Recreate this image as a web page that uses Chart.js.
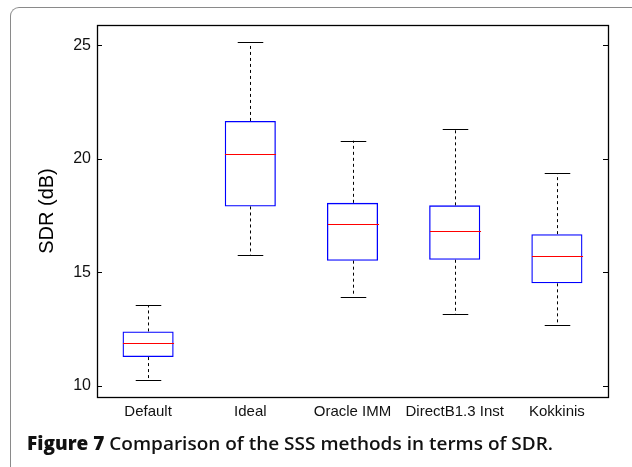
<!DOCTYPE html>
<html>
<head>
<meta charset="utf-8">
<script src="https://cdn.jsdelivr.net/npm/chart.js@4.4.1/dist/chart.umd.min.js"></script>
<style>
  html, body { margin: 0; padding: 0; background: #fff; }
  body { width: 632px; height: 467px; position: relative; overflow: hidden; }
  #frame { position: absolute; left: 10px; top: 7px; width: 700px; height: 600px;
           border-left: 1px solid #8a8a8a; border-top: 1px solid #8a8a8a; border-top-left-radius: 9px; }
  #wrap { position: absolute; left: 0; top: 0; width: 632px; height: 467px; }
  #caption { position: absolute; left: 27px; top: 433.5px; font-family: "Open Sans", Lato, sans-serif;
             font-size: 18.5px; line-height: 1; font-weight: 600; color: #111; white-space: nowrap;
             transform-origin: 0 0; }
</style>
</head>
<body>
<div id="frame"></div>
<div id="wrap"><canvas id="c" width="632" height="467"></canvas></div>
<div id="caption"><span style="font-weight:800">Figure 7</span> Comparison of the SSS methods in terms of SDR.</div>
<script>
const categories = ["Default", "Ideal", "Oracle IMM", "DirectB1.3 Inst", "Kokkinis"];
const lowerWhisker = [10.25, 15.77, 13.93, 13.14, 12.66];
const q1 = [11.26, 17.90, 15.51, 15.55, 14.51];
const median = [11.87, 20.20, 17.12, 16.81, 15.73];
const q3 = [12.39, 21.67, 18.06, 17.95, 16.68];
const upperWhisker = [13.55, 25.15, 20.80, 21.33, 19.36];
const yTicks = [10, 15, 20, 25];
const yMin = 9.5, yMax = 25.9;
const yTitle = "SDR (dB)";

// fit caption to the reference width
(function () {
  const cap = document.getElementById('caption');
  const w = cap.getBoundingClientRect().width;
  if (w > 0) cap.style.transform = 'scaleX(' + (526 / w) + ')';
})();

const boxPlugin = {
  id: 'boxextras',
  afterDatasetsDraw(chart) {
    const ctx = chart.ctx;
    const x = chart.scales.x, y = chart.scales.y;
    const unit = x.getPixelForValue(1) - x.getPixelForValue(0);
    const halfBox = unit * 0.25, halfCap = unit * 0.125;
    ctx.save();
    for (let i = 0; i < categories.length; i++) {
      const cx = Math.round(x.getPixelForValue(i)) + 0.5;
      ctx.strokeStyle = '#000';
      ctx.lineWidth = 1;
      ctx.setLineDash([3, 3]);
      ctx.beginPath();
      ctx.moveTo(cx, y.getPixelForValue(q3[i]));
      ctx.lineTo(cx, y.getPixelForValue(upperWhisker[i]));
      ctx.moveTo(cx, y.getPixelForValue(q1[i]));
      ctx.lineTo(cx, y.getPixelForValue(lowerWhisker[i]));
      ctx.stroke();
      ctx.setLineDash([]);
      ctx.beginPath();
      const yu = Math.round(y.getPixelForValue(upperWhisker[i])) + 0.5;
      const yl = Math.round(y.getPixelForValue(lowerWhisker[i])) + 0.5;
      ctx.moveTo(cx - halfCap, yu); ctx.lineTo(cx + halfCap, yu);
      ctx.moveTo(cx - halfCap, yl); ctx.lineTo(cx + halfCap, yl);
      ctx.stroke();
      ctx.strokeStyle = '#ff0000';
      ctx.lineWidth = 1.2;
      const ym = Math.round(y.getPixelForValue(median[i])) + 0.5;
      ctx.beginPath();
      ctx.moveTo(cx - halfBox, ym); ctx.lineTo(cx + halfBox, ym);
      ctx.stroke();
    }
    const a = chart.chartArea;
    ctx.strokeStyle = '#000';
    ctx.lineWidth = 1.3;
    ctx.strokeRect(Math.round(a.left) + 0.5, Math.round(a.top) + 0.5,
                   Math.round(a.right - a.left), Math.round(a.bottom - a.top));
    ctx.lineWidth = 1;
    ctx.beginPath();
    for (const t of yTicks) {
      const py = Math.round(y.getPixelForValue(t)) + 0.5;
      ctx.moveTo(a.left, py); ctx.lineTo(a.left + 5, py);
      ctx.moveTo(a.right, py); ctx.lineTo(a.right - 5, py);
    }
    ctx.stroke();
    ctx.fillStyle = '#000';
    ctx.font = '20px "Liberation Sans", Arial, sans-serif';
    ctx.textAlign = 'center';
    ctx.textBaseline = 'middle';
    ctx.translate(47, (a.top + a.bottom) / 2);
    ctx.rotate(-Math.PI / 2);
    ctx.fillText(yTitle, 0, 0);
    ctx.restore();
  }
};

new Chart(document.getElementById('c'), {
  type: 'bar',
  data: {
    labels: categories,
    datasets: [{
      data: q1.map((v, i) => [v, q3[i]]),
      backgroundColor: 'rgba(255,255,255,0)',
      borderColor: '#0000ff',
      borderWidth: 1.3,
      borderSkipped: false,
      categoryPercentage: 1,
      barPercentage: 0.5
    }]
  },
  options: {
    responsive: false,
    animation: false,
    events: [],
    layout: { padding: { left: 0, top: 25, right: 24, bottom: 0 } },
    plugins: { legend: { display: false }, tooltip: { enabled: false }, title: { display: false } },
    scales: {
      x: {
        type: 'category',
        offset: true,
        grid: { display: false, drawTicks: false },
        border: { display: false },
        ticks: { color: '#111', padding: 6, maxRotation: 0, autoSkip: false,
                 font: { family: '"Liberation Sans", Arial, sans-serif', size: 15 } },
        afterFit(s) { s.height = 70; }
      },
      y: {
        min: yMin, max: yMax,
        grid: { display: false, drawTicks: false },
        border: { display: false },
        ticks: { color: '#111', padding: 6,
                 font: { family: '"Liberation Sans", Arial, sans-serif', size: 16 } },
        afterBuildTicks(s) { s.ticks = yTicks.map(v => ({ value: v })); },
        afterFit(s) { s.width = 97; }
      }
    }
  },
  plugins: [boxPlugin]
});
</script>
</body>
</html>
